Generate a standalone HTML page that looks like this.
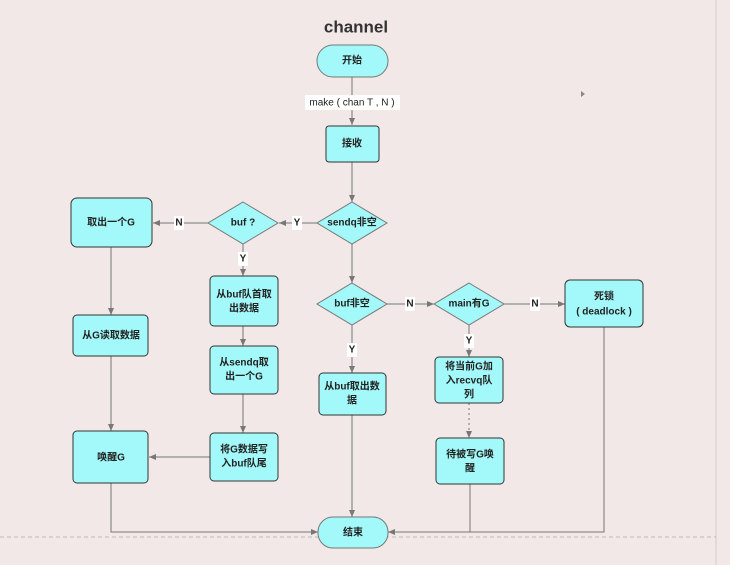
<!DOCTYPE html>
<html><head><meta charset="utf-8"><style>
html,body{margin:0;padding:0;background:#f3e8e8;}
svg{display:block}
text{font-family:"Liberation Sans","Noto Sans CJK SC",sans-serif;font-size:10px;fill:#222;text-anchor:middle;dominant-baseline:central;font-weight:bold}
.b{fill:#a3f9f9;stroke:#333;stroke-width:1}
.d{fill:#a3f9f9;stroke:#777;stroke-width:1}
.l{stroke:#777;stroke-width:1;fill:none}
</style></head><body>
<svg width="730" height="565" viewBox="0 0 730 565">
<defs><marker id="a" markerWidth="8" markerHeight="8" refX="7" refY="4" orient="auto" markerUnits="userSpaceOnUse"><path d="M0,1 L7,4 L0,7z" fill="#777"/></marker></defs>
<line x1="716" y1="0" x2="716" y2="565" stroke="#ccc"/>
<line x1="0" y1="537" x2="716" y2="537" stroke="#bbb" stroke-dasharray="4,3"/>
<text x="356" y="27" style="font-size:17px;fill:#333">channel</text>
<path d="M581,91 L585,94 L581,97z" fill="#888"/>
<!-- connectors -->
<line class="l" x1="352" y1="77" x2="352" y2="125" marker-end="url(#a)"/>
<rect x="305" y="95" width="95" height="15" fill="#fff"/>
<text x="352" y="103" style="font-weight:normal;font-size:10px">make ( chan T , N )</text>
<line class="l" x1="352" y1="162" x2="352" y2="202" marker-end="url(#a)"/>
<line class="l" x1="318" y1="223" x2="279" y2="223" marker-end="url(#a)"/>
<line class="l" x1="208" y1="223" x2="153" y2="223" marker-end="url(#a)"/>
<line class="l" x1="243" y1="244" x2="243" y2="276" marker-end="url(#a)"/>
<line class="l" x1="352" y1="244" x2="352" y2="283" marker-end="url(#a)"/>
<line class="l" x1="111" y1="247" x2="111" y2="315" marker-end="url(#a)"/>
<line class="l" x1="111" y1="356" x2="111" y2="431" marker-end="url(#a)"/>
<line class="l" x1="243" y1="326" x2="243" y2="346" marker-end="url(#a)"/>
<line class="l" x1="243" y1="394" x2="243" y2="433" marker-end="url(#a)"/>
<line class="l" x1="210" y1="457" x2="149" y2="457" marker-end="url(#a)"/>
<line class="l" x1="387" y1="304" x2="434" y2="304" marker-end="url(#a)"/>
<line class="l" x1="504" y1="304" x2="565" y2="304" marker-end="url(#a)"/>
<line class="l" x1="352" y1="325" x2="352" y2="373" marker-end="url(#a)"/>
<line class="l" x1="469" y1="325" x2="469" y2="357" marker-end="url(#a)"/>
<line class="l" x1="469" y1="403" x2="469" y2="438" stroke-dasharray="2,3" marker-end="url(#a)"/>
<line class="l" x1="352" y1="415" x2="352" y2="517" marker-end="url(#a)"/>
<polyline class="l" points="111,483 111,532 318,532" marker-end="url(#a)"/>
<polyline class="l" points="470,484 470,532 388,532" marker-end="url(#a)"/>
<polyline class="l" points="604,327 604,532 470,532"/>
<!-- labels on lines -->
<rect x="292" y="216" width="10" height="14" fill="#fff"/><text x="297" y="223">Y</text>
<rect x="174" y="216" width="10" height="14" fill="#fff"/><text x="179" y="223">N</text>
<rect x="238" y="252" width="10" height="14" fill="#fff"/><text x="243" y="259">Y</text>
<rect x="405" y="297" width="10" height="14" fill="#fff"/><text x="410" y="304">N</text>
<rect x="530" y="297" width="10" height="14" fill="#fff"/><text x="535" y="304">N</text>
<rect x="347" y="343" width="10" height="14" fill="#fff"/><text x="352" y="350">Y</text>
<rect x="464" y="334" width="10" height="14" fill="#fff"/><text x="469" y="341">Y</text>
<!-- nodes -->
<rect class="d" x="317" y="45" width="71" height="32" rx="16"/><text x="352" y="61">开始</text>
<rect class="b" x="326" y="126" width="53" height="36" rx="3"/><text x="352" y="144">接收</text>
<polygon class="d" points="352,202 387,223 352,244 317,223"/><text x="352" y="223">sendq非空</text>
<polygon class="d" points="243,202 278,223 243,244 208,223"/><text x="243" y="223">buf ?</text>
<rect class="b" x="71" y="198" width="81" height="49" rx="6"/><text x="111" y="223">取出一个G</text>
<rect class="b" x="210" y="276" width="68" height="50" rx="4"/><text x="244" y="295">从buf队首取</text><text x="244" y="309">出数据</text>
<rect class="b" x="73" y="315" width="75" height="41" rx="4"/><text x="111" y="336">从G读取数据</text>
<rect class="b" x="210" y="346" width="68" height="48" rx="4"/><text x="244" y="363">从sendq取</text><text x="244" y="377">出一个G</text>
<rect class="b" x="210" y="433" width="68" height="48" rx="4"/><text x="244" y="450">将G数据写</text><text x="244" y="464">入buf队尾</text>
<rect class="b" x="73" y="431" width="75" height="52" rx="4"/><text x="111" y="458">唤醒G</text>
<polygon class="d" points="352,283 387,304 352,325 317,304"/><text x="352" y="304">buf非空</text>
<polygon class="d" points="469,283 504,304 469,325 434,304"/><text x="469" y="304">main有G</text>
<rect class="b" x="565" y="280" width="78" height="47" rx="5"/><text x="604" y="297">死锁</text><text x="604" y="312">( deadlock )</text>
<rect class="b" x="319" y="373" width="67" height="42" rx="4"/><text x="352" y="387">从buf取出数</text><text x="352" y="401">据</text>
<rect class="b" x="435" y="357" width="68" height="46" rx="4"/><text x="469" y="367">将当前G加</text><text x="469" y="381">入recvq队</text><text x="469" y="395">列</text>
<rect class="b" x="436" y="438" width="68" height="46" rx="4"/><text x="470" y="455">待被写G唤</text><text x="470" y="469">醒</text>
<rect class="d" x="318" y="517" width="70" height="31" rx="15"/><text x="353" y="533">结束</text>
</svg>
</body></html>
